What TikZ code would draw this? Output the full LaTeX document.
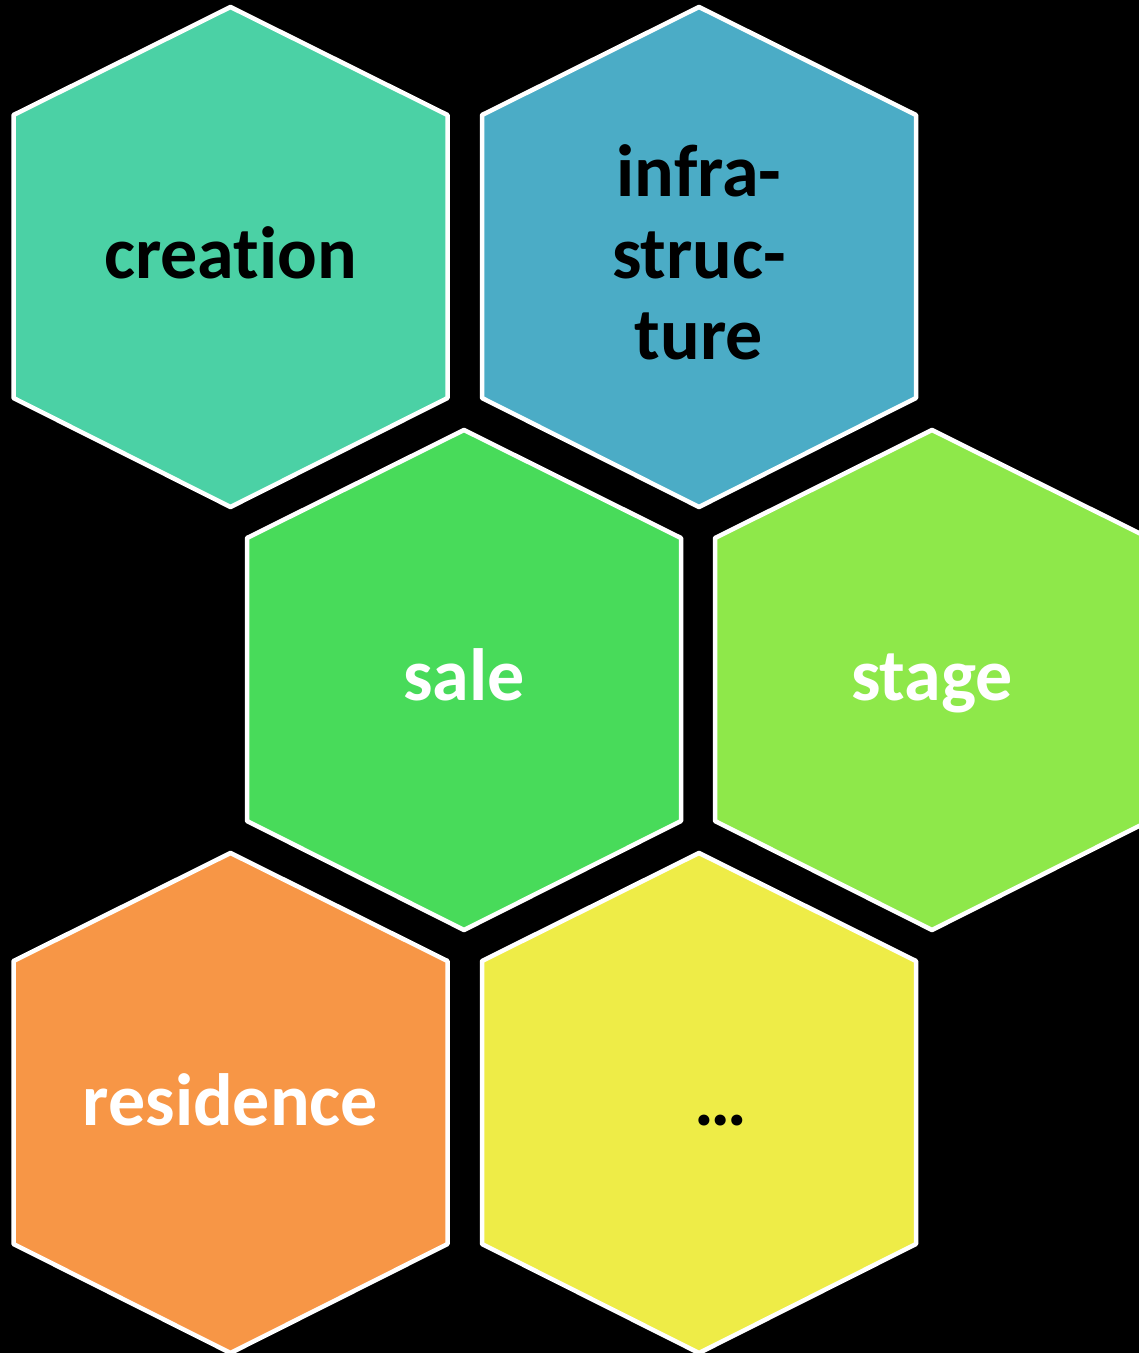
\documentclass[tikz,border=0pt]{standalone}
\usepackage{fontspec}
\setmainfont[Ligatures=NoCommon]{Carlito}
\begin{document}
\begin{tikzpicture}[x=1pt,y=-1pt,
  hexa/.style={draw=white,line width=4.5pt,line join=round},
  lbl/.style={font=\fontsize{74}{81.5}\selectfont\bfseries,inner sep=0pt,anchor=base,align=center},
  blk/.style={lbl,text=black},
  wht/.style={lbl,text=white}]
\definecolor{cCreation}{HTML}{4BD1A5}
\definecolor{cInfra}{HTML}{4BACC6}
\definecolor{cSale}{HTML}{48DB5A}
\definecolor{cStage}{HTML}{8EE84A}
\definecolor{cRes}{HTML}{F79646}
\definecolor{cDots}{HTML}{EEEC47}
\fill[black] (0,0) rectangle (1139,1353);
\useasboundingbox (0,0) rectangle (1139,1353);
\newcommand{\hexat}[3]{%
  \filldraw[hexa,fill=#3] (#1,#2) -- ++(217,108) -- ++(0,283) -- ++(-217,109) -- ++(-217,-109) -- ++(0,-283) -- cycle;}
\hexat{230.5}{7}{cCreation}
\hexat{699}{7}{cInfra}
\hexat{464}{430}{cSale}
\hexat{932}{430}{cStage}
\hexat{230.5}{853}{cRes}
\hexat{699}{853}{cDots}
\node[blk] (creation) at (230.5,278) {creation};
\node[blk] (infra1) at (699,196) {infra-};
\node[blk] (infra2) at (699,278) {struc-};
\node[blk] (infra3) at (699,359) {ture};
\node[wht] (sale) at (464,700) {sale};
\node[wht] (stage) at (932,700) {stage};
\node[wht] (residence) at (230.5,1125) {residence};
\node[blk] (dots) at (721,1125) {\ldots};
\end{tikzpicture}
\end{document}
